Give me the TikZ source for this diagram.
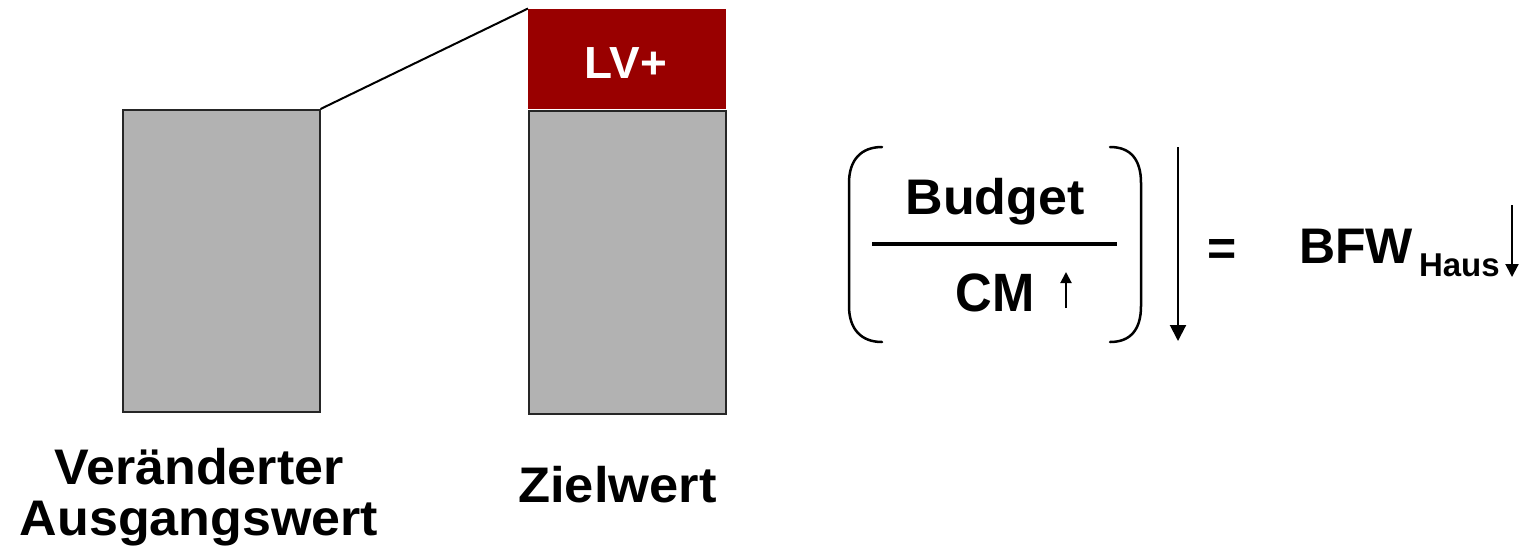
\documentclass[tikz,border=0pt]{standalone}
\usepackage{fontspec}
\usepackage{graphicx}
\setmainfont{Liberation Sans}
\usetikzlibrary{arrows.meta}
\definecolor{barfill}{HTML}{B2B2B2}
\definecolor{lvred}{HTML}{990000}
% bold label at size #1 (pt), horizontally scaled by #2
\newcommand{\lbl}[3]{\scalebox{#2}[1]{\fontsize{#1}{#1}\selectfont\bfseries #3}}
\tikzset{
  bar/.style={draw=black!85, line width=1.5pt, fill=barfill},
  txt/.style={inner sep=0pt, outer sep=0pt, anchor=base},
  paren/.style={line width=2.5pt, line cap=round},
  arr/.style={line width=2pt, -{Triangle[width=#1,length=#1]}},
}
\begin{document}
\begin{tikzpicture}[x=1pt,y=-1pt]
\useasboundingbox (0,0) rectangle (1526,550);

% bars
\node[bar, minimum width=197pt, minimum height=302pt, inner sep=0pt, anchor=north west] (ausgang) at (122,109) {};
\node[bar, minimum width=197pt, minimum height=303pt, inner sep=0pt, anchor=north west] (ziel) at (528,110) {};
\node[fill=lvred, minimum width=198pt, minimum height=100pt, inner sep=0pt, anchor=north west] (lv) at (528,8.5) {};
\node[txt, text=white] (lvtext) at (626,78) {\lbl{45}{1.02}{LV+}};
\draw[line width=2pt] (ausgang.north east) -- (lv.north west);

% captions
\node[txt] (cap1a) at (199,484) {\lbl{50}{1.04}{Veränderter}};
\node[txt] (cap1b) at (199,535) {\lbl{50}{1.04}{Ausgangswert}};
\node[txt] (cap2) at (617.5,502) {\lbl{50}{1.05}{Zielwert}};

% fraction
\node[txt] (budget) at (995,214) {\lbl{50}{1.04}{Budget}};
\node[txt] (cm) at (995,311) {\lbl{54}{0.94}{CM}};
\coordinate (fracl) at (872,244);
\coordinate (fracr) at (1117,244);
\draw[line width=4pt] (fracl) -- (fracr);
\coordinate (cmup0) at (1066,308);
\coordinate (cmup1) at (1066,272);
\draw[arr=11pt] (cmup0) -- (cmup1);

% parentheses
\draw[paren] (882,147) .. controls (861,147) and (849,160) .. (849,183)
  -- (849,306) .. controls (849,329) and (861,342) .. (882,342);
\draw[paren] (1110,147) .. controls (1131,147) and (1141,160) .. (1141,183)
  -- (1141,306) .. controls (1141,329) and (1131,342) .. (1110,342);

% downward arrow after the bracket
\coordinate (dn0) at (1178,147);
\coordinate (dn1) at (1178,341);
\draw[arr=16pt] (dn0) -- (dn1);

% result
\node[txt] (eq) at (1222,265) {\lbl{50}{1}{=}};
\node[txt, anchor=base west] (bfw) at (1299,263) {\lbl{50}{1.0}{BFW}};
\node[txt, anchor=base west] (haus) at (1419,276.5) {\lbl{33}{1.0}{Haus}};
\coordinate (hd0) at (1512,205);
\coordinate (hd1) at (1512,277);
\draw[arr=13pt] (hd0) -- (hd1);
\end{tikzpicture}
\end{document}
